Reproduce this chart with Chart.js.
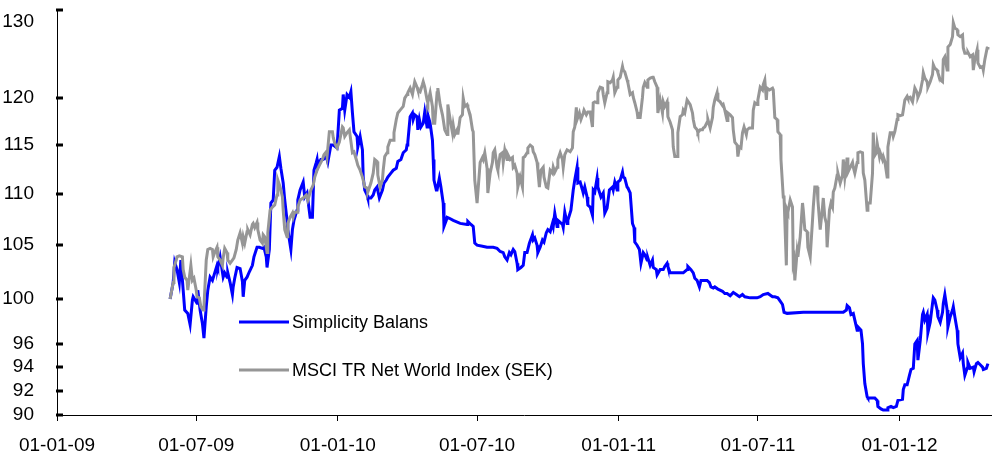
<!DOCTYPE html>
<html>
<head>
<meta charset="utf-8">
<script src="https://cdn.jsdelivr.net/npm/chart.js@4.4.0/dist/chart.umd.min.js"></script>
<style>
  html, body { margin: 0; padding: 0; background: #fff; }
</style>
</head>
<body>
<canvas id="grafico" width="999" height="454"></canvas>
<script>
const seriesNames = ['Simplicity Balans', 'MSCI TR Net World Index (SEK)'];

// x values are days counted from 01-01-09
const balansDays = [
  147,151,153,156,159,161,164,166,170,173,
  176,177,182,183,186,189,191,194,196,199,
  202,205,208,209,212,216,218,221,222,225,
  228,229,231,234,238,241,242,244,247,250,
  254,256,260,263,267,269,272,273,276,278,
  281,283,286,289,291,294,296,299,300,304,
  306,308,312,313,316,320,322,325,329,332,
  334,337,338,339,343,346,350,352,356,359,
  364,367,371,372,374,377,380,382,384,386,
  390,391,394,397,398,400,403,404,408,411,
  413,416,419,423,425,428,430,434,437,441,
  443,447,450,454,455,456,459,462,463,465,
  468,469,471,473,476,478,481,482,485,488,
  489,490,493,494,497,499,502,503,506,507,
  510,515,524,533,534,538,541,543,546,553,
  559,567,572,576,580,582,585,588,590,593,
  595,598,599,603,606,608,611,614,618,619,
  621,624,625,628,631,633,636,638,641,644,
  645,647,650,651,654,657,658,660,663,664,
  668,671,673,676,677,680,683,684,686,689,
  690,693,696,697,699,702,703,707,710,712,
  715,718,722,723,725,728,729,732,735,736,
  738,741,742,745,748,750,751,754,757,759,
  762,764,767,768,771,774,775,779,780,784,
  788,790,793,794,797,803,814,819,820,824,
  827,829,832,835,837,845,848,850,853,855,
  859,865,868,871,875,879,883,887,891,894,
  901,910,914,918,924,930,933,937,940,943,
  945,949,970,992,1014,1022,1026,1027,1030,1032,
  1035,1037,1040,1041,1045,1047,1048,1050,1053,1054,
  1063,1066,1067,1071,1074,1079,1080,1084,1087,1091,
  1093,1099,1100,1102,1105,1108,1110,1113,1115,1118,
  1119,1122,1125,1126,1128,1131,1132,1135,1138,1139,
  1141,1144,1145,1148,1151,1152,1154,1157,1158,1161,
  1164,1165,1167,1170,1171,1174,1177,1178,1180,1183,
  1184,1187,1191,1192,1195,1197,1200,1203,1204,1208,
  1210
];
const balansValues = [
  100.0,101.5,103.4,102.7,101.5,103.6,100.8,99.0,98.7,97.7,
  99.9,100.2,99.6,100.8,99.0,97.8,96.5,99.3,100.8,102.0,
  101.7,102.4,103.1,102.9,103.9,102.0,102.4,102.0,102.4,101.5,
  100.4,101.1,101.9,102.9,102.8,101.6,100.2,101.7,102.0,102.5,
  103.1,103.9,104.8,104.8,104.7,104.8,103.9,102.9,104.6,109.1,
  109.4,112.4,112.7,113.8,112.6,111.1,109.4,107.4,106.5,104.6,
  106.5,107.4,108.4,109.4,110.4,111.2,109.7,110.1,107.7,107.7,
  112.4,113.2,113.5,112.7,113.5,113.5,113.8,113.2,115.0,115.0,
  114.7,118.7,118.9,120.4,118.7,120.4,120.1,120.7,118.4,116.4,
  115.9,114.8,115.9,114.5,111.7,110.4,109.9,109.6,109.6,109.9,
  110.4,110.7,109.6,110.4,111.1,111.4,111.7,112.1,112.4,112.6,
  113.3,113.5,114.2,114.5,115.0,115.3,118.0,118.4,117.7,118.2,
  118.0,116.6,117.7,116.9,117.3,118.5,116.9,118.2,117.3,115.5,
  113.5,111.4,110.4,110.4,111.6,110.7,109.1,106.8,107.4,107.7,
  107.6,107.4,107.1,107.0,107.3,107.0,106.8,105.2,105.0,104.9,
  104.8,104.8,104.7,104.4,104.3,103.9,103.6,104.3,104.1,104.6,
  104.4,103.3,102.7,102.9,103.1,104.3,104.3,105.2,106.0,105.5,
  105.7,105.0,104.3,104.8,105.5,105.3,106.2,106.5,106.3,107.1,
  106.8,108.1,106.8,107.4,107.2,107.0,106.7,108.2,107.1,107.4,
  108.4,110.4,111.4,112.7,111.1,111.2,110.4,110.1,110.7,109.7,
  108.9,108.7,107.9,110.4,110.2,111.6,110.7,109.7,110.1,108.1,
  108.6,110.4,110.7,110.4,111.2,110.4,111.2,111.4,112.2,111.7,
  111.6,110.7,110.6,110.1,107.1,106.7,105.3,105.0,104.6,103.3,
  104.3,104.1,103.6,103.8,103.1,103.6,102.9,102.7,102.2,102.7,
  102.7,103.0,103.3,103.0,102.4,102.4,102.4,102.7,103.0,102.7,
  102.4,101.9,101.7,101.1,101.7,101.7,101.5,101.1,101.0,101.1,
  100.9,100.7,100.5,100.5,100.3,100.6,100.4,100.2,100.4,100.2,
  100.1,100.1,100.2,100.4,100.5,100.2,100.2,100.1,99.8,99.5,
  98.8,98.7,98.8,98.8,98.8,98.8,99.0,99.4,99.2,98.6,
  98.7,98.1,97.2,97.5,97.2,96.0,94.3,92.6,91.5,91.4,
  91.4,91.2,90.7,90.5,90.4,90.4,90.6,90.7,90.6,90.7,
  91.2,91.3,92.1,92.5,92.5,93.3,93.8,93.9,96.0,96.3,
  94.6,96.3,98.6,98.8,98.1,98.6,97.0,97.9,99.6,100.1,
  99.9,99.0,98.4,97.9,98.8,99.6,100.4,99.0,97.5,98.4,
  99.0,99.3,98.4,97.2,96.0,94.8,95.2,94.3,93.3,93.9,
  94.4,93.9,94.0,93.6,94.3,94.4,94.2,94.0,93.8,93.9,
  94.3
];

const msciDays = [
  147,151,152,155,156,159,163,164,166,169,
  170,174,176,178,181,182,185,187,190,191,
  194,196,199,202,203,205,208,209,212,215,
  216,218,221,222,225,228,230,233,235,238,
  241,242,244,247,248,251,254,255,257,260,
  261,264,267,268,270,273,274,277,280,283,
  286,287,290,293,294,296,299,300,303,306,
  307,309,312,313,316,
  320,324,326,330,333,335,338,341,345,347,
  350,351,354,358,359,361,364,367,371,372,
  374,377,380,384,386,389,391,394,397,398,
  400,403,404,408,411,413,416,417,420,423,
  424,426,429,430,433,437,438,441,443,446,
  450,452,455,456,459,462,463,465,468,469,
  472,475,476,478,481,482,485,488,489,491,
  494,495,498,501,502,504,507,508,511,514,
  515,517,520,521,524,527,528,530,533,534,
  537,540,541,543,546,547,550,553,554,556,
  559,560,563,566,567,569,572,573,576,579,
  580,582,585,586,589,592,593,595,598,599,
  602,605,606,608,611,612,615,618,619,621,
  624,625,627,629,632,633,636,638,641,644,
  645,647,650,651,654,657,658,660,663,664,
  667,670,671,673,675,676,679,681,684,685,
  688,690,693,696,697,699,702,703,706,709,
  710,712,715,716,719,722,723,725,728,729,
  732,735,736,738,741,742,745,748,749,751,
  754,755,758,761,762,764,767,768,771,774,
  775,777,780,781,784,787,788,790,793,794,
  797,800,801,803,806,807,810,813,814,816,
  819,820,823,826,827,829,832,833,836,839,
  840,842,845,846,849,852,853,855,858,859,
  862,865,866,868,871,872,875,878,879,881,
  884,885,887,889,891,893,896,897,900,904,
  905,907,910,911,914,917,918,920,922,923,
  926,930,931,933,936,937,940,941,944,945,
  948,949,950,953,956,957,958,959,962,963,
  966,969,970,972,975,976,979,982,983,985,
  988,989,992,995,996,998,1000,1001,1004,1006,
  1008,1009,1011,1014,1015,1018,1021,1022,1024,1027,
  1028,1031,1034,1035,1037,1040,1041,1044,1047,1048,
  1050,1053,1054,1057,1060,1061,1062,1065,1066,1069,
  1070,1073,1074,1076,1079,1080,1083,1086,1087,1089,
  1092,1093,1096,1099,1100,1102,1105,1106,1109,1112,
  1113,1115,1118,1119,1122,1125,1126,1128,1131,1132,
  1135,1138,1139,1141,1144,1145,1148,1151,1152,1154,
  1157,1158,1161,1164,1165,1167,1170,1171,1174,1177,
  1178,1180,1183,1184,1187,1190,1191,1193,1196,1197,
  1200,1203,1204,1206,1209,1210
];
const msciValues = [
  100.0,101.5,102.9,103.6,103.9,104.0,103.9,102.7,102.0,101.7,
  100.8,103.1,101.7,101.9,100.8,100.2,100.1,99.3,99.0,99.3,
  103.6,104.6,104.7,104.6,103.9,104.3,104.8,103.9,103.6,103.1,
  103.8,104.7,104.3,103.6,103.3,103.6,103.8,104.6,105.5,106.2,
  105.2,105.8,105.2,106.3,106.5,106.0,107.0,107.1,106.7,107.2,
  106.5,105.5,105.2,106.0,105.8,104.3,106.2,108.4,108.7,108.9,
  109.9,111.4,110.7,109.7,108.4,106.5,105.8,107.1,107.7,108.1,
  107.7,108.2,108.2,108.7,109.4,
  109.6,109.9,109.4,110.4,110.9,111.7,112.4,112.9,113.5,114.0,
  114.3,113.8,116.4,116.4,115.8,115.2,114.7,115.3,116.9,116.8,
  115.9,116.3,116.6,114.2,114.3,113.5,112.9,112.4,111.7,111.4,
  110.7,110.6,110.2,111.1,112.1,113.5,113.3,111.9,110.7,111.4,
  112.4,113.8,114.2,114.8,115.5,115.5,116.3,117.7,118.4,118.7,
  119.1,120.0,120.4,120.6,121.1,120.4,120.9,121.8,121.2,120.9,
  120.7,121.5,121.8,121.2,119.8,119.5,120.6,119.1,117.3,117.3,
  120.6,121.1,119.3,118.2,117.7,116.6,116.1,119.3,117.7,116.3,
  117.1,116.1,116.6,116.1,117.9,118.2,120.0,119.1,119.3,119.0,
  118.2,116.6,116.4,111.4,109.1,109.1,113.2,113.7,113.5,114.2,
  112.6,110.1,112.1,113.2,114.2,114.5,112.7,112.4,114.0,114.2,
  113.2,114.5,113.5,114.0,113.5,113.7,112.7,112.9,112.1,110.7,
  111.7,110.7,113.7,113.8,114.2,114.7,115.0,114.8,114.3,114.0,
  113.2,112.4,110.7,112.4,112.7,111.7,110.7,110.6,112.4,112.1,
  112.7,112.2,112.7,113.5,114.2,113.5,112.7,114.0,114.5,114.5,
  114.3,114.7,116.4,116.9,119.0,117.7,118.4,117.7,118.4,118.7,
  118.2,118.5,118.5,116.9,119.5,119.6,119.5,120.6,121.2,121.1,
  120.4,119.5,120.6,121.8,121.7,122.0,122.3,120.6,121.2,122.0,
  122.3,123.5,123.1,122.9,122.0,121.7,120.4,120.6,120.1,119.5,
  118.5,117.9,117.9,120.1,121.2,121.7,121.2,122.0,122.2,122.3,
  122.3,121.8,121.2,118.4,119.8,118.4,119.6,119.1,119.6,118.0,
  117.4,116.6,114.8,113.8,113.8,116.3,118.0,118.2,118.7,118.4,
  119.8,119.8,119.3,118.4,117.7,116.9,116.6,116.3,116.6,116.6,
  116.8,116.9,117.4,117.7,116.8,117.9,119.0,119.8,120.6,119.8,
  119.6,119.2,119.3,118.7,117.6,118.4,118.2,117.9,116.6,115.3,
  115.0,113.8,114.8,114.7,116.3,116.9,116.1,116.6,116.8,116.8,
  118.7,119.5,119.3,119.8,121.2,120.9,121.5,122.0,119.8,121.1,
  120.9,121.1,120.9,117.9,117.7,116.4,116.1,113.5,109.7,109.7,
  103.1,108.4,108.2,109.4,108.7,103.3,103.6,101.7,104.4,103.9,
  105.8,109.1,108.4,106.5,106.3,104.8,103.9,107.4,108.7,110.7,
  110.7,109.4,106.5,108.7,109.6,107.7,107.1,104.8,108.4,109.1,
  108.7,110.2,110.6,111.9,112.1,111.1,111.9,113.5,111.7,113.7,
  112.2,112.7,113.2,112.7,112.1,113.2,114.2,114.3,114.2,112.1,
  111.4,108.4,109.1,109.1,112.1,116.3,113.8,114.2,115.2,113.8,
  114.2,113.5,113.8,113.3,111.7,114.8,116.3,116.3,115.9,116.4,
  117.7,118.2,118.1,118.2,118.7,119.8,120.2,120.0,120.1,119.6,
  120.1,121.1,120.6,120.1,120.7,122.0,122.8,122.2,121.8,121.2,
  121.8,122.6,123.7,123.3,123.1,122.8,122.0,121.8,124.3,124.6,
  123.1,125.7,126.0,126.9,128.5,127.9,127.7,127.1,126.9,127.1,
  125.6,125.0,125.0,125.1,124.6,124.8,123.1,124.3,125.4,123.9,
  123.4,123.5,123.1,124.3,125.6,125.7
];

const xTickDays = [0, 181, 365, 546, 730, 911, 1095];
const yTicks = [90, 92, 94, 96, 100, 105, 110, 115, 120, 130];

const seriesColors = ['#0000ff', '#969696'];
const fontFam = '"Liberation Sans", Arial, sans-serif';

const start = Date.UTC(2009, 0, 1);
function dayLabel(d) {
  const dt = new Date(start + d * 86400000);
  const p = n => String(n).padStart(2, '0');
  return p(dt.getUTCDate()) + '-' + p(dt.getUTCMonth() + 1) + '-' + p(dt.getUTCFullYear() % 100);
}
const toPoints = (days, vals) => days.map((d, i) => ({ x: d, y: vals[i] }));

// y tick marks point into the plot, like the original
const insideTicks = {
  id: 'insideTicks',
  afterDraw(chart) {
    const { ctx, chartArea, scales } = chart;
    ctx.save();
    ctx.strokeStyle = '#000';
    ctx.lineWidth = 3;
    yTicks.forEach(v => {
      const y = Math.round(scales.y.getPixelForValue(v));
      ctx.beginPath();
      ctx.moveTo(chartArea.left - 1, y);
      ctx.lineTo(chartArea.left + 6, y);
      ctx.stroke();
    });
    ctx.restore();
  }
};

// legend sits inside the plot area
const innerLegend = {
  id: 'innerLegend',
  afterDraw(chart) {
    const { ctx } = chart;
    ctx.save();
    ctx.font = '18px ' + fontFam;
    ctx.textBaseline = 'middle';
    ctx.fillStyle = '#000';
    const rows = [322, 370];
    seriesNames.forEach((name, i) => {
      ctx.strokeStyle = seriesColors[i];
      ctx.lineWidth = 3;
      ctx.beginPath();
      ctx.moveTo(239, rows[i]);
      ctx.lineTo(289, rows[i]);
      ctx.stroke();
      ctx.fillText(name, 292, rows[i] + 1);
    });
    ctx.restore();
  }
};

const config = {
  type: 'line',
  data: {
    datasets: [
      {
        label: seriesNames[0],
        data: toPoints(balansDays, balansValues),
        borderColor: seriesColors[0],
        borderWidth: 3,
        pointRadius: 0,
        tension: 0,
        order: 1
      },
      {
        label: seriesNames[1],
        data: toPoints(msciDays, msciValues),
        borderColor: seriesColors[1],
        borderWidth: 3,
        pointRadius: 0,
        tension: 0,
        order: 0
      }
    ]
  },
  options: {
    responsive: false,
    animation: false,
    devicePixelRatio: 1,
    layout: { padding: { top: 10, right: 8, left: 0, bottom: 0 } },
    plugins: {
      legend: { display: false },
      tooltip: { enabled: false }
    },
    scales: {
      x: {
        type: 'linear',
        min: 0,
        max: 1214,
        grid: { display: true, drawOnChartArea: false, drawTicks: true, tickLength: 6, color: '#000' },
        border: { display: true, color: '#000', width: 1 },
        ticks: {
          color: '#000',
          font: { family: fontFam, size: 19 },
          padding: 13,
          maxRotation: 0,
          autoSkip: false,
          callback: v => dayLabel(v)
        },
        afterBuildTicks: s => { s.ticks = xTickDays.map(v => ({ value: v })); },
        afterFit: s => { s.height = 39; s.paddingLeft = 0; s.paddingRight = 0; }
      },
      y: {
        type: 'logarithmic',
        min: 90,
        max: 130,
        grid: { display: false },
        border: { display: true, color: '#000', width: 1 },
        ticks: {
          color: '#000',
          font: { family: fontFam, size: 19 },
          padding: 15,
          autoSkip: false,
          callback: v => v === 130 ? ['', '130'] : String(v)
        },
        afterBuildTicks: s => { s.ticks = yTicks.map(v => ({ value: v })); },
        afterFit: s => { s.width = 57; s.paddingTop = 0; s.paddingBottom = 0; }
      }
    }
  },
  plugins: [insideTicks, innerLegend]
};

new Chart(document.getElementById('grafico').getContext('2d'), config);
</script>
</body>
</html>
